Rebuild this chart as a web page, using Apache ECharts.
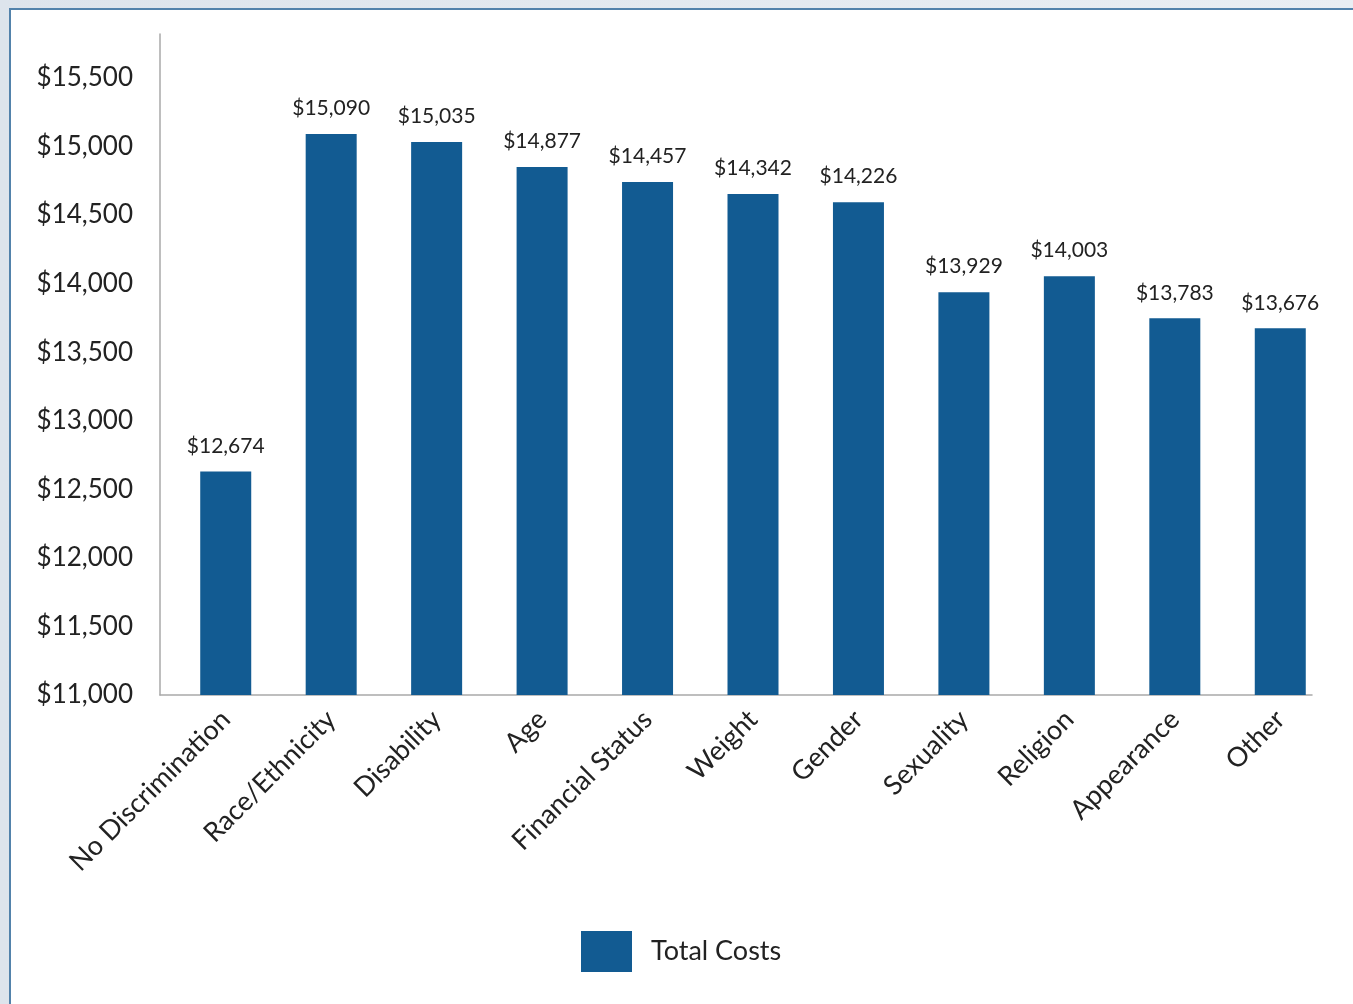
<!DOCTYPE html>
<html lang="en">

<head>
    <meta charset="UTF-8">
    <title>Total Costs</title>
    <style>
        html, body {
            margin: 0;
            padding: 0;
            width: 1353px;
            height: 1004px;
            overflow: hidden;
            background: linear-gradient(to right, #dde4ec, #e9eef3);
        }

        .frame {
            position: absolute;
            left: 9px;
            top: 8px;
            width: 1400px;
            height: 1100px;
            background: #fff;
            border-left: 2px solid #5282ab;
            border-top: 2px solid #5282ab;
        }

        #chart {
            position: absolute;
            left: 0;
            top: 0;
            width: 1353px;
            height: 1004px;
        }
    </style>
</head>

<body>
    <div class="frame"></div>
    <div id="chart"></div>
</body>
<script src="https://cdn.jsdelivr.net/npm/echarts@6/dist/echarts.min.js"></script>
<script>
    // categories and values
    const categories = ['No Discrimination', 'Race/Ethnicity', 'Disability', 'Age', 'Financial Status',
        'Weight', 'Gender', 'Sexuality', 'Religion', 'Appearance', 'Other'];
    // bar heights as drawn
    const barValues = [12629, 15091, 15033, 14850, 14740, 14653, 14594, 13937, 14054, 13747, 13674];
    // value labels as printed over the bars
    const labelText = ['$12,674', '$15,090', '$15,035', '$14,877', '$14,457', '$14,342',
        '$14,226', '$13,929', '$14,003', '$13,783', '$13,676'];
    const yMin = 11000, yMax = 15820, yStep = 500;

    const font = 'Lato, "Open Sans", sans-serif';
    const barColor = '#125b92';
    const axisGrey = '#a9a9a9';

    const chart = echarts.init(document.getElementById('chart'));

    const money = v => '$' + v.toLocaleString('en-US');

    const option = {
        backgroundColor: 'transparent',
        animation: false,
        textStyle: { fontFamily: font },
        grid: [
            // frame grid: carries the visible axis lines and the y labels
            { left: 160, right: 41, top: 34, bottom: 309 },
            // bar grid
            { left: 173, right: 20, top: 34, bottom: 309 }
        ],
        xAxis: [
            {
                type: 'value', gridIndex: 0, min: 0, max: 1,
                axisLine: { show: true, lineStyle: { color: axisGrey, width: 1.5 } },
                axisTick: { show: false },
                axisLabel: { show: false },
                splitLine: { show: false }
            },
            {
                type: 'category', gridIndex: 1, data: categories,
                axisLine: { show: false },
                axisTick: { show: false },
                axisLabel: {
                    rotate: 45, margin: 20, interval: 0,
                    fontSize: 27, color: '#222', fontFamily: font
                }
            }
        ],
        yAxis: [
            {
                type: 'value', gridIndex: 0, min: yMin, max: yMax, interval: yStep,
                axisLine: { show: true, lineStyle: { color: axisGrey, width: 1.5 } },
                axisTick: { show: false },
                splitLine: { show: false },
                axisLabel: {
                    showMaxLabel: false, margin: 27,
                    fontSize: 26, color: '#222', fontFamily: font,
                    formatter: v => v % yStep === 0 ? money(v) : ''
                }
            },
            {
                type: 'value', gridIndex: 1, min: yMin, max: yMax, interval: yStep,
                show: false
            }
        ],
        legend: {
            left: 581, top: 931, padding: 0,
            itemWidth: 51, itemHeight: 41,
            icon: 'rect',
            textStyle: { fontSize: 27, color: '#222', fontFamily: font, padding: [3, 0, 0, 14] },
            data: ['Total Costs']
        },
        series: [{
            name: 'Total Costs',
            type: 'bar',
            xAxisIndex: 1,
            yAxisIndex: 1,
            barWidth: 51,
            data: barValues,
            itemStyle: { color: barColor },
            label: {
                show: true,
                position: 'top',
                distance: 15,
                fontSize: 21,
                color: '#222',
                fontFamily: font,
                formatter: p => labelText[p.dataIndex]
            }
        }]
    };

    chart.setOption(option);
</script>

</html>
